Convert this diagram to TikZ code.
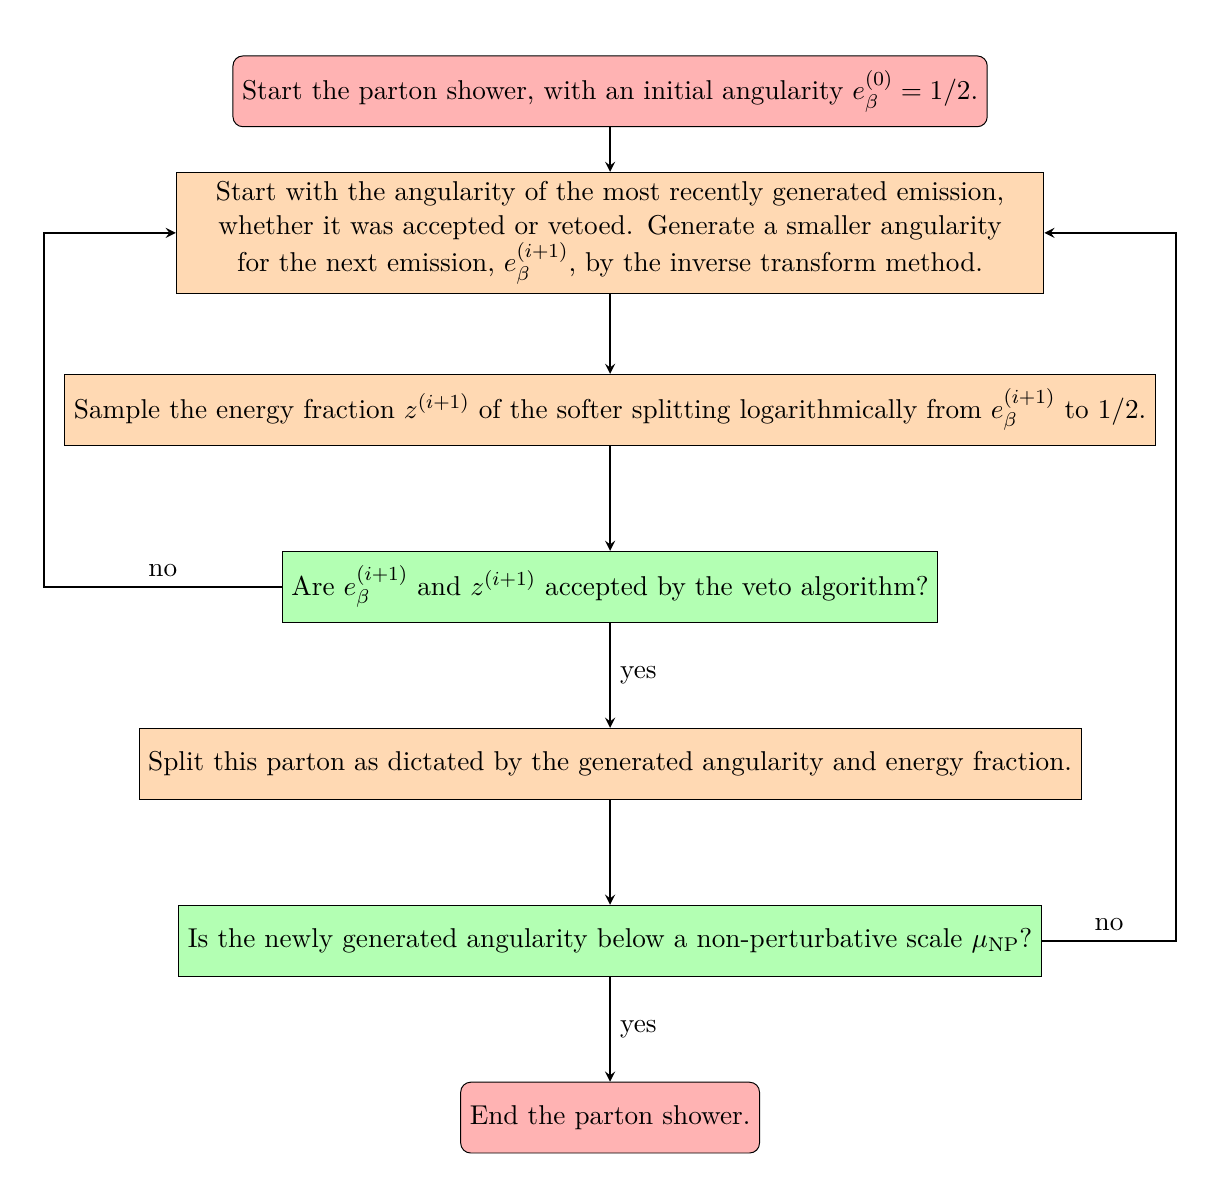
\documentclass[11pt,tikz,border=0pt]{standalone}
\usepackage{tikz}
\usepackage{xcolor}
\definecolor{showerred}{RGB}{255,179,179}
\definecolor{showerorange}{RGB}{255,217,179}
\definecolor{showergreen}{RGB}{179,255,179}

\begin{document}
\begin{tikzpicture}[
    terminal/.style={rectangle, rounded corners, draw=black, fill=showerred, minimum height=1cm, text centered},
    process/.style={rectangle, draw=black, fill=showerorange, minimum height=1cm, text centered},
    decision/.style={rectangle, draw=black, fill=showergreen, minimum height=1cm, text centered},
    arrow/.style={thick, ->, >=stealth}
]
    \useasboundingbox (-8.62,1.29) rectangle (8.73,-15.41);

    % Start of the shower
    \node[terminal] (start) at (0,0) {Start the parton shower, with an initial angularity $e_\beta^{(0)} = 1/2$.};

    % Next emission
    \node[process, text width=12cm, align=center] (emit) at (0,-2) {Start with the angularity of the most recently generated emission,\\ whether it was accepted or vetoed. Generate a smaller angularity\\ for the next emission, $e_\beta^{(i+1)}$, by the inverse transform method.};

    % Energy fraction
    \node[process] (sample) at (0,-4.5) {Sample the energy fraction $z^{(i+1)}$ of the softer splitting logarithmically from $e_\beta^{(i+1)}$ to 1/2.};

    % Veto
    \node[decision] (veto) at (0,-7) {Are $e_\beta^{(i+1)}$ and $z^{(i+1)}$ accepted by the veto algorithm?};

    % Splitting
    \node[process] (split) at (0,-9.5) {Split this parton as dictated by the generated angularity and energy fraction.};

    % Cutoff
    \node[decision] (cutoff) at (0,-12) {Is the newly generated angularity below a non-perturbative scale $\mu_{\mathrm{NP}}$?};

    % End of the shower
    \node[terminal] (stop) at (0,-14.5) {End the parton shower.};

    % Loop rails
    \coordinate (leftrail) at (-8,0);
    \coordinate (rightrail) at (8,0);

    % Arrows
    \draw[arrow] (start) -- (emit);
    \draw[arrow] (emit) -- (sample);
    \draw[arrow] (sample) -- (veto);
    \draw[arrow] (veto) -- node[right] {yes} (split);
    \draw[arrow] (split) -- (cutoff);
    \draw[arrow] (cutoff) -- node[right] {yes} (stop);
    \draw[arrow] (veto.west) -- node[above] {no} (veto.west -| leftrail) |- (emit.west);
    \draw[arrow] (cutoff.east) -- node[above] {no} (cutoff.east -| rightrail) |- (emit.east);
\end{tikzpicture}
\end{document}
